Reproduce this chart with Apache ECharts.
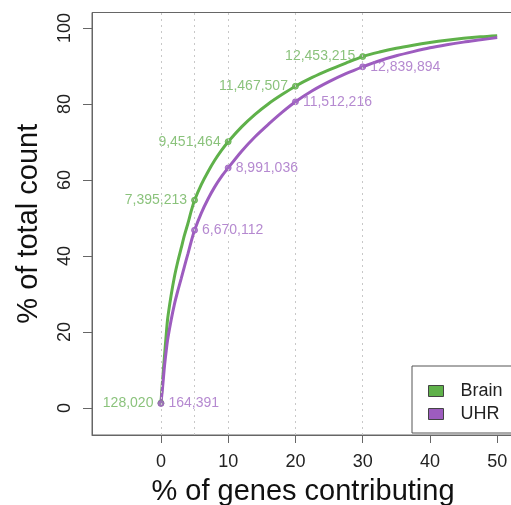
<!DOCTYPE html>
<html>
<head>
<meta charset="utf-8">
<script src="https://cdn.jsdelivr.net/npm/echarts@6/dist/echarts.min.js"></script>
<style>html,body{margin:0;padding:0;background:#fff}#c{width:511px;height:505px}</style>
</head>
<body>
<div id="c"></div>
<script>
// Curve samples: % of genes contributing vs % of total count
var xPct     = [0, 0.25, 0.5, 0.75, 1, 1.5, 2, 2.5, 3, 3.5, 4, 4.5, 5, 6, 7, 8, 9, 10, 12, 14, 16, 18, 20, 22.5, 25, 27.5, 30, 32.5, 35, 37.5, 40, 42.5, 45, 47.5, 50];
var brainPct = [1.3, 7.5, 13, 18.5, 23.5, 29.5, 34.5, 38.5, 42, 45.5, 48.5, 51.8, 54.7, 58.8, 62.2, 65.2, 67.8, 70.1, 74, 77.3, 80.1, 82.5, 84.7, 87, 89, 90.8, 92.5, 93.7, 94.7, 95.5, 96.2, 96.8, 97.3, 97.7, 98];
var uhrPct   = [1.2, 5.5, 10.5, 14.5, 18, 23, 27.3, 30.8, 34, 37.3, 40.5, 43.8, 46.8, 51.3, 55, 58.2, 60.9, 63.2, 67.6, 71.4, 74.7, 77.8, 80.6, 83.5, 85.9, 88, 89.8, 91.4, 92.7, 93.8, 94.8, 95.6, 96.3, 96.9, 97.5];

// Marked points
var markX       = [0, 5, 10, 20, 30];
var brainMark   = [1.3, 54.7, 70.1, 84.7, 92.5];
var uhrMark     = [1.2, 46.8, 63.2, 80.6, 89.8];
var brainCounts = ['128,020', '7,395,213', '9,451,464', '11,467,507', '12,453,215'];
var uhrCounts   = ['164,391', '6,670,112', '8,991,036', '11,512,216', '12,839,894'];

// Axis ticks and dotted guide lines
var xTicks = [0, 10, 20, 30, 40, 50];
var yTicks = [0, 20, 40, 60, 80, 100];
var guideX = [0, 5, 10, 20, 30];

var GREEN = '#5fb14a', PURPLE = '#9d5cbf';
var GREEN_T = '#6db35a', PURPLE_T = '#a36bc4';
var FONT = 'Liberation Sans';

function pairs(xs, ys) { return xs.map(function (x, i) { return [x, ys[i]]; }); }

var chart = echarts.init(document.getElementById('c'), null, {renderer: 'canvas'});
chart.setOption({
  animation: false,
  backgroundColor: '#fff',
  textStyle: {fontFamily: FONT},
  grid: {left: 92, top: 12.5, width: 422, height: 422.5, show: true, borderColor: '#666', borderWidth: 1,
         containLabel: false, outerBoundsMode: 'none'},
  xAxis: {
    type: 'value', min: -10.25, max: 52.5,
    name: '% of genes contributing', nameLocation: 'middle', nameGap: 42,
    nameTextStyle: {fontSize: 29, color: '#111', fontFamily: FONT},
    axisLine: {show: true, onZero: false, lineStyle: {color: '#666'}},
    axisTick: {show: true, length: 8, lineStyle: {color: '#666'}, customValues: xTicks},
    axisLabel: {fontSize: 18, color: '#222', margin: 18, fontFamily: FONT, customValues: xTicks},
    splitLine: {show: false}
  },
  yAxis: {
    type: 'value', min: -7.1, max: 104.1,
    name: '% of total count', nameLocation: 'middle', nameGap: 49,
    nameTextStyle: {fontSize: 29, color: '#111', fontFamily: FONT},
    axisLine: {show: true, onZero: false, lineStyle: {color: '#666'}},
    axisTick: {show: true, length: 9, lineStyle: {color: '#666'}, customValues: yTicks},
    axisLabel: {fontSize: 18, color: '#222', margin: 18, rotate: 90, fontFamily: FONT, customValues: yTicks},
    splitLine: {show: false}
  },
  legend: {
    orient: 'vertical', left: 412, top: 366,
    padding: [16, 40, 10, 16], itemGap: 5, itemWidth: 15, itemHeight: 11,
    borderColor: '#555', borderWidth: 1, backgroundColor: '#fff',
    formatter: '{t|{name}}',
    textStyle: {fontSize: 18, color: '#222', fontFamily: FONT, rich: {t: {fontSize: 18, color: '#222', fontFamily: FONT, padding: [0, 0, 0, 12]}}},
    data: [
      {name: 'Brain', icon: 'rect', itemStyle: {color: GREEN, borderColor: '#444', borderWidth: 1}},
      {name: 'UHR', icon: 'rect', itemStyle: {color: PURPLE, borderColor: '#444', borderWidth: 1}}
    ]
  },
  series: [
    {
      name: 'guides', type: 'line', data: [], silent: true,
      markLine: {
        silent: true, symbol: 'none', label: {show: false},
        lineStyle: {color: '#c8c8c8', type: [2, 4], width: 1},
        data: guideX.map(function (v) { return {xAxis: v}; })
      }
    },
    {
      name: 'Brain', type: 'line', data: pairs(xPct, brainPct), smooth: 0.3,
      showSymbol: false, lineStyle: {color: GREEN, width: 3}, itemStyle: {color: GREEN}, z: 3
    },
    {
      name: 'UHR', type: 'line', data: pairs(xPct, uhrPct), smooth: 0.3,
      showSymbol: false, lineStyle: {color: PURPLE, width: 3}, itemStyle: {color: PURPLE}, z: 3
    },
    {
      name: 'Brain', type: 'scatter', data: pairs(markX, brainMark), symbolSize: 6, z: 4,
      itemStyle: {color: GREEN_T, borderColor: GREEN, borderWidth: 1},
      label: {show: true, position: 'left', distance: 4, fontSize: 14, color: GREEN_T, fontFamily: FONT,
        formatter: function (p) { return brainCounts[p.dataIndex]; }}
    },
    {
      name: 'UHR', type: 'scatter', data: pairs(markX, uhrMark), symbolSize: 6, z: 4,
      itemStyle: {color: PURPLE_T, borderColor: PURPLE, borderWidth: 1},
      label: {show: true, position: 'right', distance: 4, fontSize: 14, color: PURPLE_T, fontFamily: FONT,
        formatter: function (p) { return uhrCounts[p.dataIndex]; }}
    }
  ]
});
</script>
</body>
</html>
